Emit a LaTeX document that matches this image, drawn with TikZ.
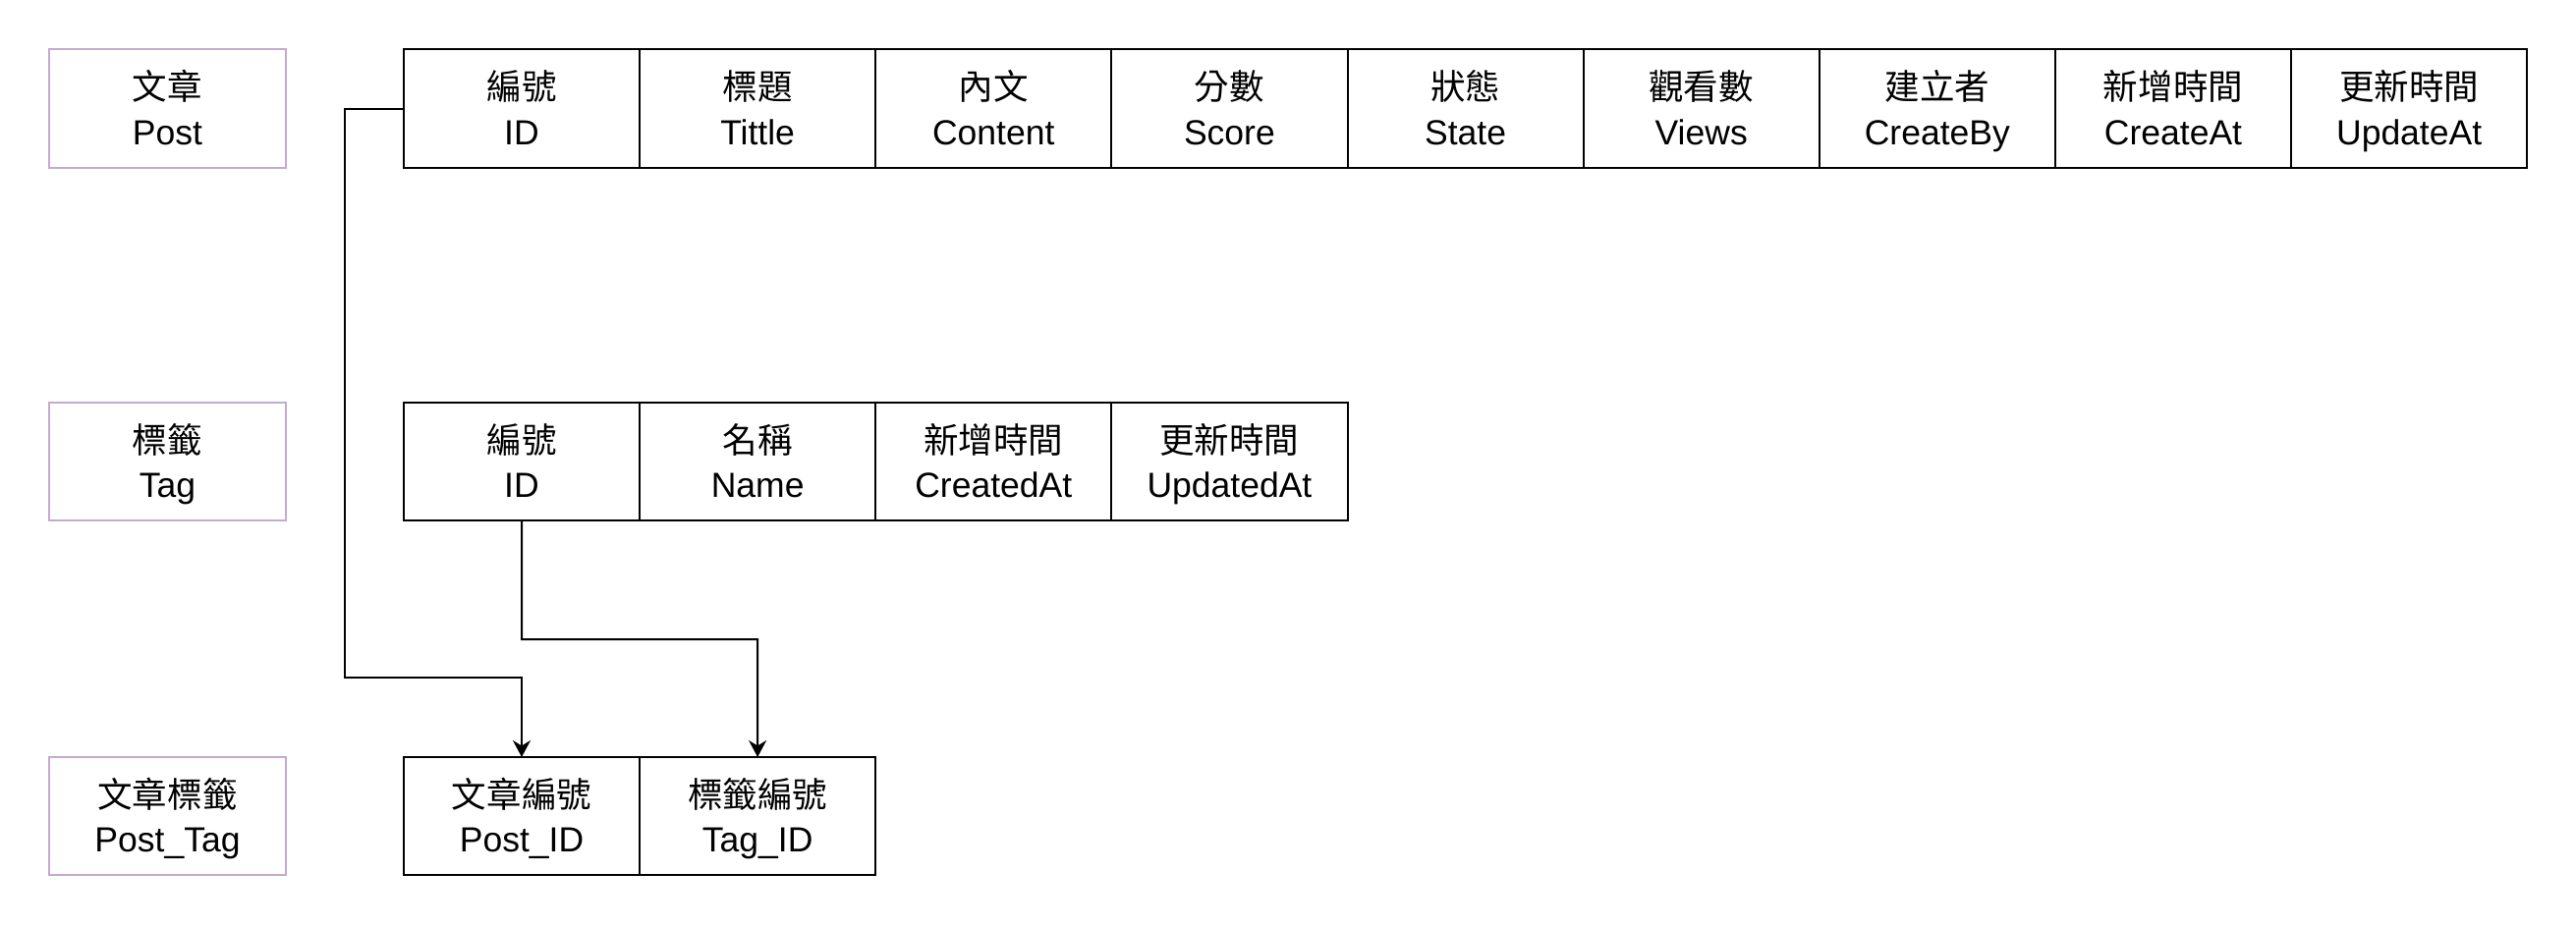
\documentclass[tikz,border=0pt]{standalone}
\usepackage{fontspec}
\setmainfont{Liberation Sans}
\newfontfamily\cjk{Noto Sans CJK TC}
\usetikzlibrary{arrows.meta, positioning}
\definecolor{tagline}{RGB}{195, 171, 208}

\newcommand{\fld}[2]{{\cjk #1\strut\rule{0pt}{11.8pt}}\\#2\strut}

\begin{document}
\begin{tikzpicture}[
        x=0.01cm, y=-0.01cm,
        font=\fontsize{10.1}{12.8}\selectfont,
        cell/.style={rectangle, draw, line width=0.02cm,
                     minimum width=24mm, minimum height=12mm,
                     inner sep=0pt, outer sep=0pt, align=center},
        title/.style={cell, draw=tagline, minimum width=24.1mm},
        link/.style={-{Stealth[length=1.7mm, width=1.8mm]}, line width=0.02cm},
    ]
        \useasboundingbox (0,0) rectangle (2622,942);

        % entity names
        \node[title] (t-post) at (170.5,110.5) {\fld{文章}{Post}};
        \node[title] (t-tag) at (170.5,470) {\fld{標籤}{Tag}};
        \node[title] (t-pt) at (170.5,831) {\fld{文章標籤}{Post\_Tag}};

        % Post
        \node[cell] (post1) at (531,110.5) {\fld{編號}{ID}};
        \node[cell, right=0pt of post1] (post2) {\fld{標題}{Tittle}};
        \node[cell, right=0pt of post2] (post3) {\fld{內文}{Content}};
        \node[cell, right=0pt of post3] (post4) {\fld{分數}{Score}};
        \node[cell, right=0pt of post4] (post5) {\fld{狀態}{State}};
        \node[cell, right=0pt of post5] (post6) {\fld{觀看數}{Views}};
        \node[cell, right=0pt of post6] (post7) {\fld{建立者}{CreateBy}};
        \node[cell, right=0pt of post7] (post8) {\fld{新增時間}{CreateAt}};
        \node[cell, right=0pt of post8] (post9) {\fld{更新時間}{UpdateAt}};

        % Tag
        \node[cell] (tag1) at (531,470) {\fld{編號}{ID}};
        \node[cell, right=0pt of tag1] (tag2) {\fld{名稱}{Name}};
        \node[cell, right=0pt of tag2] (tag3) {\fld{新增時間}{CreatedAt}};
        \node[cell, right=0pt of tag3] (tag4) {\fld{更新時間}{UpdatedAt}};

        % Post_Tag
        \node[cell] (pt1) at (531,831) {\fld{文章編號}{Post\_ID}};
        \node[cell, right=0pt of pt1] (pt2) {\fld{標籤編號}{Tag\_ID}};

        \coordinate (bend1) at (351,690);
        \coordinate (bend2) at (771,651);

        \draw[link] (post1.west) -| (bend1) -| (pt1.north);
        \draw[link] (tag1.south) |- (bend2) -- (pt2.north);
    \end{tikzpicture}
\end{document}
